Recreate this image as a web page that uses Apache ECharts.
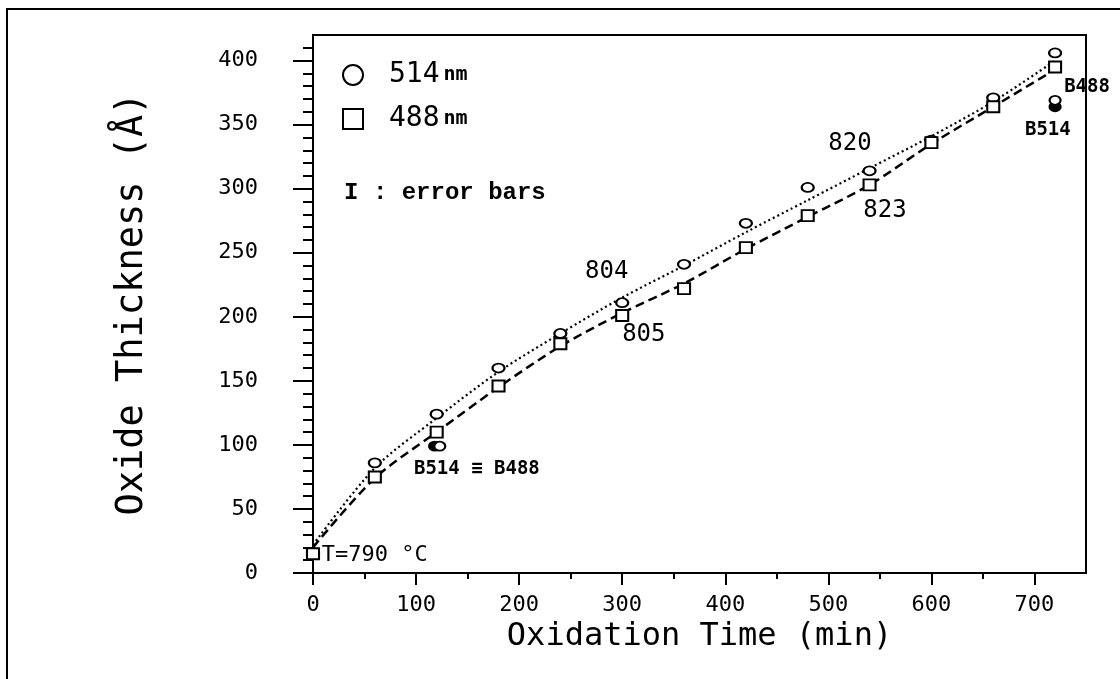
<!DOCTYPE html>
<html>
<head>
<meta charset="utf-8">
<script src="https://cdn.jsdelivr.net/npm/echarts@6/dist/echarts.min.js"></script>
<style>
  html, body { margin: 0; padding: 0; background: #fff; }
  #container { width: 1120px; height: 679px; }
</style>
</head>
<body>
<div id="container"></div>
<script>
// oxidation time (min)
var times = [0, 60, 120, 180, 240, 300, 360, 420, 480, 540, 600, 660, 720];
// measured thickness (A)
var t514 = [16, 86, 124, 160, 187, 211, 241, 273, 301, 314, 338, 371, 406];
var t488 = [15, 75, 110, 146, 179, 201, 222, 254, 279, 303, 336, 364, 395];
// fitted curves
var fit514 = [22, 82, 121, 157, 187, 215, 240, 266, 291, 316, 341, 368, 400];
var fit488 = [20, 74, 110, 145, 177, 203, 226, 253, 278, 303, 335, 364, 393];
// B samples: [time, thickness]
var b514 = [[118, 99], [720, 364]];
var b488 = [[123, 99], [720, 369]];
// text notes: [time, thickness, text]
var notes = [
    [285, 235, '804'],
    [321, 186, '805'],
    [521, 335, '820'],
    [555, 283, '823'],
    [159, 81, 'B514 ≡ B488'],
    [751, 379, 'B488'],
    [713, 346, 'B514'],
    [60, 14, 'T=790 °C'],
    [128, 297, 'I : error bars']
];
// axis ticks
var xMajor = [0, 100, 200, 300, 400, 500, 600, 700];
var xMinor = [50, 150, 250, 350, 450, 550, 650];
var yMajor = [0, 50, 100, 150, 200, 250, 300, 350, 400];
var yMinor = [];
for (var v = 10; v <= 410; v += 10) {
    if (v % 50 !== 0) yMinor.push(v);
}

function pairs(xs, ys) {
    var result = [];
    for (var i = 0; i < xs.length; i++) {
        result.push([xs[i], ys[i]]);
    }
    return result;
}

var mono = 'DejaVu Sans Mono';
var black = '#000';

var myChart = echarts.init(document.getElementById('container'));

var option = {
    animation: false,
    backgroundColor: '#fff',
    graphic: [{
        type: 'rect',
        shape: { x: 7, y: 9, width: 1200, height: 700 },
        style: { fill: 'none', stroke: black, lineWidth: 2 },
        silent: true
    }],
    grid: {
        left: 313, right: 34, top: 35, bottom: 106,
        show: true,
        borderColor: black,
        borderWidth: 2,
        backgroundColor: 'transparent'
    },
    legend: {
        data: ['514 nm', '488 nm'],
        orient: 'vertical',
        left: 342,
        top: 61,
        padding: 0,
        itemWidth: 20,
        itemHeight: 20,
        itemGap: 16,
        formatter: function (name) {
            return '{a|' + name.split(' ')[0] + '}{b|nm}';
        },
        textStyle: {
            rich: {
                a: { fontFamily: mono, fontSize: 28, color: black, lineHeight: 20, padding: [0, 4, 0, 21] },
                b: { fontFamily: mono, fontSize: 20, fontWeight: 'bold', color: black, lineHeight: 20 }
            }
        }
    },
    xAxis: [{
        type: 'value',
        min: 0, max: 750,
        name: 'Oxidation Time (min)',
        nameLocation: 'middle',
        nameGap: 34,
        nameTextStyle: { fontFamily: mono, fontSize: 32, color: black },
        axisLine: { lineStyle: { color: black, width: 2 } },
        axisTick: { length: 12, lineStyle: { color: black, width: 2 }, customValues: xMajor },
        axisLabel: { fontFamily: mono, fontSize: 22, color: black, margin: 21, customValues: xMajor },
        splitLine: { show: false }
    }, {
        type: 'value',
        min: 0, max: 750,
        position: 'bottom',
        axisLine: { show: false },
        axisTick: { length: 6, lineStyle: { color: black, width: 2 }, customValues: xMinor },
        axisLabel: { show: false },
        splitLine: { show: false }
    }],
    yAxis: [{
        type: 'value',
        min: 0, max: 420,
        name: 'Oxide Thickness (Å)',
        nameLocation: 'middle',
        nameGap: 162,
        nameTextStyle: { fontFamily: mono, fontSize: 37, color: black },
        axisLine: { lineStyle: { color: black, width: 2 } },
        axisTick: { length: 20, lineStyle: { color: black, width: 2 }, customValues: yMajor },
        axisLabel: { fontFamily: mono, fontSize: 22, color: black, margin: 55, customValues: yMajor },
        splitLine: { show: false }
    }, {
        type: 'value',
        min: 0, max: 420,
        position: 'left',
        offset: 0,
        axisLine: { show: false },
        axisTick: { length: 10, lineStyle: { color: black, width: 2 }, customValues: yMinor },
        axisLabel: { show: false },
        splitLine: { show: false }
    }],
    series: [
        {
            name: 'fit 514',
            type: 'line',
            data: pairs(times, fit514),
            smooth: 0.3,
            showSymbol: false,
            lineStyle: { color: black, width: 2.2, type: [2, 3] },
            z: 1
        },
        {
            name: 'fit 488',
            type: 'line',
            data: pairs(times, fit488),
            smooth: 0.3,
            showSymbol: false,
            lineStyle: { color: black, width: 2.5, type: [9, 5] },
            z: 1
        },
        {
            name: '514 nm',
            type: 'scatter',
            data: pairs(times, t514),
            symbol: 'circle',
            symbolSize: [12, 9],
            itemStyle: { color: '#fff', borderColor: black, borderWidth: 2, opacity: 1 },
            z: 3
        },
        {
            name: '488 nm',
            type: 'scatter',
            data: pairs(times, t488),
            symbol: 'rect',
            symbolSize: [12, 11],
            itemStyle: { color: '#fff', borderColor: black, borderWidth: 2, opacity: 1 },
            z: 4
        },
        {
            name: 'B514',
            type: 'scatter',
            data: b514,
            symbol: 'circle',
            symbolSize: [11, 9],
            itemStyle: { color: black, borderColor: black, borderWidth: 2, opacity: 1 },
            z: 3
        },
        {
            name: 'B488',
            type: 'scatter',
            data: b488,
            symbol: 'circle',
            symbolSize: [11, 9],
            itemStyle: { color: '#fff', borderColor: black, borderWidth: 2, opacity: 1 },
            z: 3
        },
        {
            name: 'notes',
            type: 'scatter',
            data: notes,
            symbolSize: 0,
            clip: false,
            silent: true,
            itemStyle: { opacity: 1 },
            label: {
                show: true,
                position: 'inside',
                color: black,
                textBorderWidth: 0,
                formatter: function (p) {
                    var txt = p.value[2];
                    if (txt.charAt(0) === 'B') return '{b|' + txt + '}';
                    if (txt.charAt(0) === 'T') return '{t|' + txt + '}';
                    if (txt.charAt(0) === 'I') return '{e|' + txt + '}';
                    return '{n|' + txt + '}';
                },
                rich: {
                    n: { fontFamily: mono, fontSize: 24, color: black, textBorderWidth: 0 },
                    b: { fontFamily: mono, fontSize: 19, fontWeight: 'bold', color: black, textBorderWidth: 0 },
                    t: { fontFamily: mono, fontSize: 22, color: black, textBorderWidth: 0 },
                    e: { fontFamily: 'Liberation Mono', fontSize: 24, fontWeight: 'bold', color: black, textBorderWidth: 0 }
                }
            },
            z: 5
        }
    ]
};

myChart.setOption(option);
</script>
</body>
</html>
